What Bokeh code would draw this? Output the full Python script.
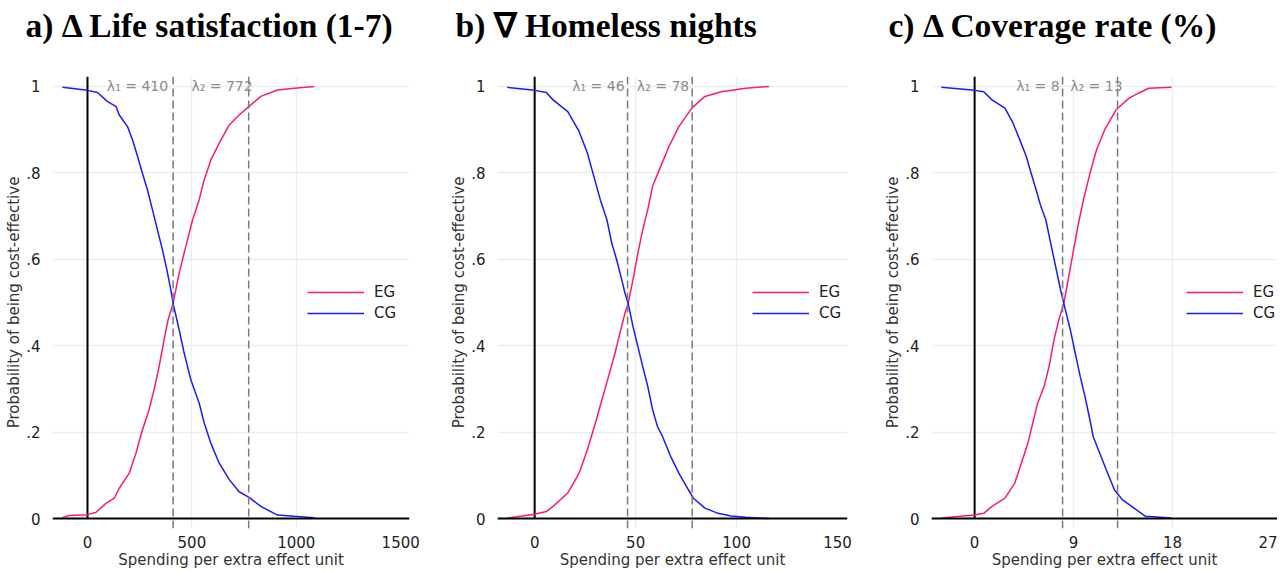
from bokeh.plotting import figure
from bokeh.models import Span, Label, FixedTicker, CustomJSTickFormatter, Range1d, Legend, LegendItem
from bokeh.layouts import row, column
from bokeh.core.properties import value
from bokeh.embed import file_html
from bokeh.resources import INLINE

# ---------------- data ----------------
titles = ["a) \u0394 Life satisfaction (1-7)", "b) \u2207 Homeless nights", "c) \u0394 Coverage rate (%)"]
x_label = "Spending per extra effect unit"
y_label = "Probability of being cost-effective"
series_names = ["EG", "CG"]

a_eg_x = [-120, -88, 0, 40, 88, 128, 152, 200, 232, 263, 295, 319, 343, 367, 386, 410, 439, 471, 503, 535, 559, 591, 631, 679, 726, 774, 830, 910, 990, 1086]
a_eg_p = [0.002, 0.007, 0.009, 0.014, 0.035, 0.047, 0.070, 0.105, 0.151, 0.205, 0.252, 0.298, 0.352, 0.414, 0.460, 0.498, 0.568, 0.630, 0.691, 0.738, 0.784, 0.830, 0.869, 0.911, 0.934, 0.954, 0.977, 0.992, 0.996, 1.0]
a_cg_x = [-120, 0, 48, 96, 136, 152, 192, 216, 240, 263, 287, 311, 335, 359, 380, 399, 410, 439, 463, 495, 535, 559, 591, 631, 679, 726, 774, 830, 910, 990, 1086]
a_cg_p = [0.998, 0.991, 0.986, 0.965, 0.954, 0.934, 0.907, 0.876, 0.838, 0.799, 0.761, 0.715, 0.668, 0.622, 0.576, 0.529, 0.498, 0.437, 0.383, 0.321, 0.267, 0.221, 0.174, 0.128, 0.090, 0.062, 0.049, 0.028, 0.008, 0.005, 0.002]

b_eg_x = [-13.6, 0, 5.8, 9.1, 16.4, 22, 26.1, 30.1, 33.3, 36.6, 39.8, 42.2, 44.7, 46.3, 48.7, 51.1, 53.5, 56, 58.4, 61.7, 66.5, 71.4, 77.8, 84.3, 92.4, 104.5, 116]
b_eg_p = [0.001, 0.010, 0.016, 0.028, 0.059, 0.105, 0.159, 0.221, 0.275, 0.329, 0.383, 0.429, 0.475, 0.498, 0.553, 0.614, 0.668, 0.715, 0.769, 0.807, 0.861, 0.907, 0.950, 0.977, 0.988, 0.996, 1.0]
b_cg_x = [-13.6, 0, 5.8, 9.1, 16.4, 22, 26.1, 29.3, 32.5, 35.8, 38.2, 40.6, 43.1, 44.7, 46.3, 48.7, 51.1, 53.5, 56, 58.4, 60.8, 63.3, 67.3, 71.4, 76.2, 78.6, 84.3, 90.8, 97.2, 104.5, 116]
b_cg_p = [0.998, 0.991, 0.986, 0.969, 0.942, 0.896, 0.846, 0.792, 0.738, 0.691, 0.637, 0.599, 0.553, 0.522, 0.498, 0.444, 0.398, 0.352, 0.306, 0.252, 0.213, 0.190, 0.144, 0.105, 0.066, 0.047, 0.024, 0.012, 0.006, 0.003, 0.0]

c_eg_x = [-3.03, 0, 0.83, 1.58, 2.76, 3.65, 4.25, 4.84, 5.29, 5.73, 6.33, 6.77, 7.22, 7.66, 8.11, 8.56, 9.0, 9.45, 9.9, 10.49, 11.08, 11.83, 12.86, 14.05, 14.94, 15.84, 17.9]
c_eg_p = [0.001, 0.008, 0.012, 0.028, 0.047, 0.082, 0.128, 0.174, 0.221, 0.267, 0.306, 0.352, 0.414, 0.460, 0.498, 0.560, 0.622, 0.684, 0.738, 0.799, 0.853, 0.900, 0.946, 0.973, 0.985, 0.996, 0.998]
c_cg_x = [-3.03, 0, 0.83, 1.58, 2.76, 3.5, 4.1, 4.7, 5.14, 5.59, 6.03, 6.48, 6.92, 7.37, 7.82, 8.11, 8.7, 9.15, 9.6, 10.04, 10.49, 10.78, 11.38, 11.97, 12.72, 13.46, 14.5, 15.54, 17.9]
c_cg_p = [0.998, 0.991, 0.988, 0.969, 0.950, 0.915, 0.877, 0.838, 0.799, 0.761, 0.722, 0.691, 0.637, 0.583, 0.529, 0.498, 0.437, 0.383, 0.329, 0.282, 0.228, 0.190, 0.151, 0.113, 0.066, 0.043, 0.024, 0.005, 0.001]

lambda1 = [410, 46, 8]
lambda2 = [772, 78, 13]
x_ticks = [[0, 500, 1000, 1500], [0, 50, 100, 150], [0, 9, 18, 27]]
y_ticks = [0, 0.2, 0.4, 0.6, 0.8, 1]

# ---------------- style / layout ----------------
PINK = "#ff1a70"
BLUE = "#1a1aff"
GRID = "#e6eff1"
SANS = "DejaVu Sans"

eg_x = [a_eg_x, b_eg_x, c_eg_x]
eg_p = [a_eg_p, b_eg_p, c_eg_p]
cg_x = [a_cg_x, b_cg_x, c_cg_x]
cg_p = [a_cg_p, b_cg_p, c_cg_p]

widths = [447, 434, 396]
borders_left = [52, 43, 43]
borders_right = [38, 34, 0]
x_ranges = [(-167.6, -167.6 + 357 / 0.2088), (-18.4, -18.4 + 357 / 2.06), (-3.92, -3.92 + 353 / 11.22)]
lab1_off = [-5, -3, -3]
lab2_off = [4, -3, 5]

TITLE_H = 50                   # height of the title strip
title_left = [25, 455, 888]    # px inside the title strip
title_mid = 25                 # px from the top of the strip

H = 521
TOP, BOTTOM = 26, 43
Y0, Y1 = -0.0231, 1.0231

# ---------------- title strip ----------------
TW = sum(widths)
tfig = figure(width=TW, height=TITLE_H, output_backend="svg", toolbar_location=None,
              x_range=Range1d(0, TW), y_range=Range1d(0, TITLE_H),
              x_axis_location=None, y_axis_location=None,
              min_border_left=0, min_border_right=0, min_border_top=0, min_border_bottom=0)
tfig.outline_line_color = None
tfig.grid.visible = False
tfig.text(x=title_left, y=[TITLE_H - title_mid] * 3, text=titles,
          text_font=value("Liberation Serif"), text_font_style="bold",
          text_font_size=value("33.5px"), text_color="black",
          text_align="left", text_baseline="middle")

yfmt = CustomJSTickFormatter(code="""
if (tick == 0) return "0";
if (tick == 1) return "1";
return tick.toFixed(1).replace(/^0/, "");
""")

figs = []
for i in range(3):
    p = figure(width=widths[i], height=H, output_backend="svg", toolbar_location=None,
               x_range=Range1d(*x_ranges[i]), y_range=Range1d(Y0, Y1),
               min_border_left=borders_left[i], min_border_right=borders_right[i],
               min_border_top=TOP, min_border_bottom=BOTTOM)
    p.outline_line_color = None
    p.background_fill_color = "white"
    p.border_fill_color = "white"

    # axes
    p.xaxis.ticker = FixedTicker(ticks=x_ticks[i])
    p.yaxis.ticker = FixedTicker(ticks=y_ticks)
    p.yaxis.formatter = yfmt
    for ax in (p.xaxis[0], p.yaxis[0]):
        ax.axis_line_color = None
        ax.major_tick_line_color = None
        ax.minor_tick_line_color = None
        ax.major_label_text_font = SANS
        ax.major_label_text_font_size = "15px"
        ax.major_label_text_color = "#222222"
        ax.axis_label_text_font = SANS
        ax.axis_label_text_font_size = "15px"
        ax.axis_label_text_font_style = "normal"
        ax.axis_label_text_color = "#333333"
    p.xaxis.axis_label = x_label
    p.yaxis.axis_label = y_label
    p.xaxis.major_label_standoff = 1
    p.xaxis.axis_label_standoff = 0
    p.yaxis.major_label_standoff = 6
    p.yaxis.axis_label_standoff = 0

    # grids
    p.xgrid.ticker = FixedTicker(ticks=x_ticks[i][1:3])
    p.ygrid.ticker = FixedTicker(ticks=y_ticks[1:])
    for g in (p.xgrid[0], p.ygrid[0]):
        g.grid_line_color = GRID
        g.grid_line_width = 1.5

    # zero lines
    p.add_layout(Span(location=0, dimension="width", line_color="black", line_width=2))
    p.segment(x0=[0], y0=[0], x1=[0], y1=[Y1], line_color="black", line_width=2)

    r_eg = p.line(eg_x[i], eg_p[i], line_color=PINK, line_width=1.5)
    r_cg = p.line(cg_x[i], cg_p[i], line_color=BLUE, line_width=1.5)

    # lambda lines and labels
    for lam, off, sub in ((lambda1[i], lab1_off[i], "\u2081"), (lambda2[i], lab2_off[i], "\u2082")):
        p.add_layout(Span(location=lam, dimension="height", line_color="#7a7a7a",
                          line_width=1.5, line_dash="8 4"))
        p.add_layout(Label(x=lam, y=1.0, text="\u03bb" + sub + " = " + str(lam),
                           text_align="right", text_baseline="middle", x_offset=off,
                           text_font=SANS, text_font_size="14px", text_color="#8c8c8c"))

    legend = Legend(items=[LegendItem(label=series_names[0], renderers=[r_eg]),
                           LegendItem(label=series_names[1], renderers=[r_cg])],
                    location=(255, 205))
    legend.border_line_color = None
    legend.background_fill_alpha = 0
    legend.padding = 0
    legend.margin = 0
    legend.spacing = 1
    legend.glyph_width = 57
    legend.glyph_height = 20
    legend.label_height = 20
    legend.label_standoff = 10
    legend.label_text_font = SANS
    legend.label_text_font_size = "15px"
    legend.label_text_color = "#222222"
    p.add_layout(legend)

    figs.append(p)

layout = column(tfig, row(*figs))
open("out.html", "w").write(file_html(layout, INLINE))
